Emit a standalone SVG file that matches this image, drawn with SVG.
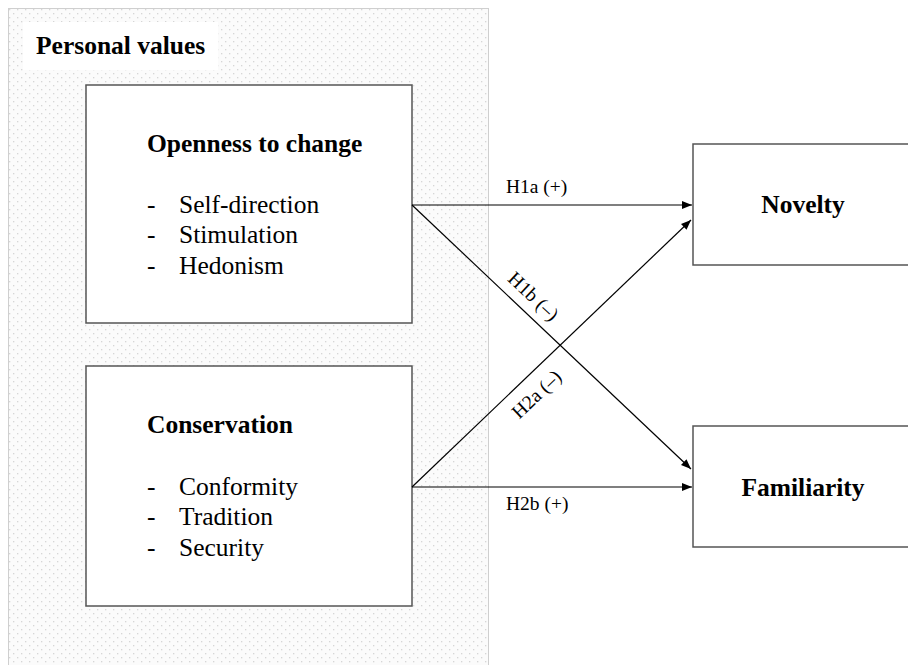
<svg xmlns="http://www.w3.org/2000/svg" width="908" height="665" viewBox="0 0 908 665">
<defs>
<pattern id="dots" x="0" y="0" width="8" height="8" patternUnits="userSpaceOnUse">
<rect width="8" height="8" fill="#fbfbfb"/>
<rect x="1" y="1" width="1.3" height="1.3" fill="#d6d6d6"/>
<rect x="5" y="5" width="1.3" height="1.3" fill="#d6d6d6"/>
</pattern>
<marker id="arr" viewBox="0 0 10 10" refX="10" refY="5" markerWidth="10" markerHeight="10" markerUnits="userSpaceOnUse" orient="auto">
<path d="M0,1 L10,5 L0,9 z" fill="#000"/>
</marker>
<style>
.box{fill:#fff;stroke:#555;stroke-width:1.5}
.h{font-family:"Liberation Serif","Times New Roman",serif;font-weight:bold;font-size:25.5px;fill:#000}
.t{font-family:"Liberation Serif","Times New Roman",serif;font-size:25.5px;fill:#000}
.l{font-family:"Liberation Serif","Times New Roman",serif;font-size:19.5px;fill:#000}
.c{stroke:#000;stroke-width:1.2;fill:none}
</style>
</defs>
<rect width="908" height="665" fill="#fff"/>
<g id="personal-values">
<rect x="8.5" y="8.5" width="480" height="670" fill="url(#dots)" stroke="#cfcfcf" stroke-width="1"/>
<rect x="23" y="22" width="195" height="48" fill="#fff"/>
<text class="h" x="36" y="54">Personal values</text>
</g>
<g id="openness">
<rect class="box" x="86" y="85" width="326" height="238"/>
<text class="h" x="147" y="152">Openness to change</text>
<text class="t" x="147" y="213">-</text><text class="t" x="179" y="213">Self-direction</text>
<text class="t" x="147" y="243">-</text><text class="t" x="179" y="243">Stimulation</text>
<text class="t" x="147" y="274">-</text><text class="t" x="179" y="274">Hedonism</text>
</g>
<g id="conservation">
<rect class="box" x="86" y="366" width="326" height="240"/>
<text class="h" x="147" y="433">Conservation</text>
<text class="t" x="147" y="495">-</text><text class="t" x="179" y="495">Conformity</text>
<text class="t" x="147" y="525">-</text><text class="t" x="179" y="525">Tradition</text>
<text class="t" x="147" y="556">-</text><text class="t" x="179" y="556">Security</text>
</g>
<g id="novelty">
<rect class="box" x="693" y="144" width="240" height="121"/>
<text class="h" x="803" y="213" text-anchor="middle">Novelty</text>
</g>
<g id="familiarity">
<rect class="box" x="693" y="426" width="240" height="121"/>
<text class="h" x="803" y="496" text-anchor="middle">Familiarity</text>
</g>
<g id="connectors">
<line class="c" x1="412" y1="205" x2="692" y2="205" marker-end="url(#arr)"/>
<line class="c" x1="412" y1="205" x2="691" y2="469" marker-end="url(#arr)"/>
<line class="c" x1="412" y1="487" x2="692" y2="487" marker-end="url(#arr)"/>
<line class="c" x1="412" y1="487" x2="691" y2="220" marker-end="url(#arr)"/>
<text class="l" x="506" y="193">H1a (+)</text>
<text class="l" x="506" y="510">H2b (+)</text>
<text class="l" transform="translate(529,301) rotate(43.3)" text-anchor="middle">H1b (–)</text>
<text class="l" transform="translate(541,399) rotate(-43.5)" text-anchor="middle">H2a (–)</text>
</g>
</svg>
